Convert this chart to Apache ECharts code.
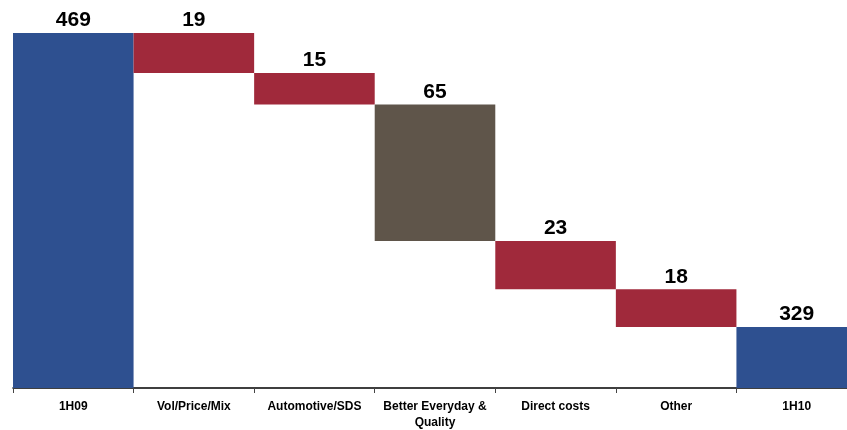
<!DOCTYPE html>
<html><head><meta charset="utf-8">
<script src="https://cdn.jsdelivr.net/npm/echarts@6/dist/echarts.min.js"></script>
<style>html,body{margin:0;padding:0;background:#fff}#c{width:847px;height:430px}</style>
</head><body><div id="c"></div>
<script>
const categories = ['1H09', 'Vol/Price/Mix', 'Automotive/SDS', 'Better Everyday &\nQuality', 'Direct costs', 'Other', '1H10'];
const baseValues = [0, 450, 435, 370, 347, 329, 0];
const deltaValues = [469, 19, 15, 65, 23, 18, 329];
const barColors = ['#2E5090', '#A0293B', '#A0293B', '#5F554A', '#A0293B', '#A0293B', '#2E5090'];

const chart = echarts.init(document.getElementById('c'), null, {renderer: 'canvas'});
chart.setOption({
  animation: false,
  grid: {left: 13, right: -10, top: 10, bottom: 42, containLabel: false, outerBoundsMode: 'none'},
  xAxis: {
    type: 'category', data: categories,
    axisLine: {lineStyle: {color: '#000', width: 1.5}},
    axisTick: {show: true, alignWithLabel: false, length: 5, lineStyle: {color: '#444'}},
    axisLabel: {color: '#000', fontFamily: 'Liberation Sans, Arial', fontWeight: 'bold', fontSize: 12, margin: 11, lineHeight: 16, interval: 0}
  },
  yAxis: {type: 'value', min: 300, max: 480, show: false, splitLine: {show: false}},
  series: [
    {type: 'bar', stack: 'w', data: baseValues, itemStyle: {color: 'transparent'}, barWidth: '100%', silent: true},
    {type: 'bar', stack: 'w', barWidth: '100%',
      data: deltaValues.map((v, i) => ({value: v, itemStyle: {color: barColors[i]}})),
      label: {show: true, position: 'top', distance: 2, color: '#000', fontFamily: 'Liberation Sans, Arial', fontWeight: 'bold', fontSize: 21}
    }
  ]
});
</script></body></html>
